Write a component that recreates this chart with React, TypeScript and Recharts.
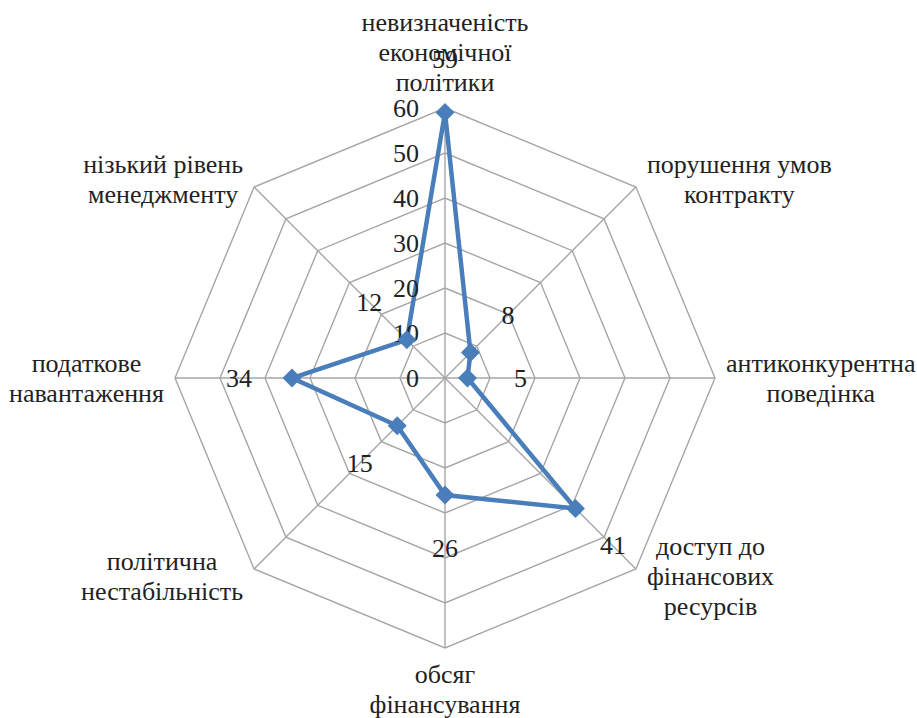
import React from 'react';
import { RadarChart, Radar, PolarGrid, PolarAngleAxis, PolarRadiusAxis } from 'recharts';

// Фактори ризику (категорії) та значення
const categories = [
  'невизначеність\nекономічної\nполітики',
  'порушення умов\nконтракту',
  'антиконкурентна\nповедінка',
  'доступ до\nфінансових\nресурсів',
  'обсяг\nфінансування',
  'політична\nнестабільність',
  'податкове\nнавантаження',
  'нізький рівень\nменеджменту',
];
const values = [59, 8, 5, 41, 26, 15, 34, 12];
const radiusTicks = [0, 10, 20, 30, 40, 50, 60];

const data = categories.map((name, i) => ({ name, value: values[i] }));

const W = 917;
const H = 718;
const CX = 445;
const CY = 378;
const R = 270;
const FS = 26;
const LH = 30;
const FONT = 'Liberation Serif';
const BLUE = '#4a7ebb';
const GRID = '#a6a6a6';
const RAD = Math.PI / 180;
const TXT = '#222';

let ctx: CanvasRenderingContext2D | null = null;
const measure = (s: string) => {
  if (!ctx) ctx = document.createElement('canvas').getContext('2d');
  if (!ctx) return s.length * FS * 0.5;
  ctx.font = `${FS}px "${FONT}"`;
  return ctx.measureText(s).width;
};

// підписи категорій: блок тексту зовні вершини, як в Excel
const AngleTick = (props: any) => {
  const { payload } = props;
  const angle = payload.coordinate;
  const cos = Math.cos(angle * RAD);
  const sin = Math.sin(angle * RAD);
  const vx = CX + R * cos;
  const vy = CY - R * sin;
  const lines = String(payload.value).split('\n');
  const w = Math.max(...lines.map(measure));
  const h = lines.length * LH;
  let bx = vx;
  if (cos > 0.1) bx = vx + w / 2 + 11;
  else if (cos < -0.1) bx = vx - w / 2 - 11;
  let by = vy;
  if (Math.abs(cos) < 0.1) by = vy - Math.sign(sin) * (h / 2 + 11);
  else if (Math.abs(sin) > 0.1) by = vy - Math.sign(sin) * 8;
  return (
    <text textAnchor="middle" fontFamily={FONT} fontSize={FS} fill={TXT}>
      {lines.map((l, i) => (
        <tspan key={i} x={bx} y={by - h / 2 + LH * (i + 0.5)} dominantBaseline="central">
          {l}
        </tspan>
      ))}
    </text>
  );
};

const RadiusTick = (props: any) => {
  const { x, y, payload } = props;
  return (
    <text x={x - 26} y={y} textAnchor="end" dominantBaseline="central" fontFamily={FONT} fontSize={FS} fill={TXT}>
      {payload.value}
    </text>
  );
};

// ромб-маркер + підпис значення, зміщений назовні від центру
const DiamondDot = (props: any) => {
  const { cx, cy, value, index } = props;
  const dx = cx - CX;
  const dy = cy - CY;
  const len = Math.hypot(dx, dy) || 1;
  const off = 53;
  const lx = cx + (dx / len) * off;
  const ly = cy + (dy / len) * off;
  const s = 9.5;
  return (
    <g key={`dot-${index}`}>
      <path d={`M${cx},${cy - s}L${cx + s},${cy}L${cx},${cy + s}L${cx - s},${cy}Z`} fill={BLUE} />
      <text x={lx} y={ly} textAnchor="middle" dominantBaseline="central" fontFamily={FONT} fontSize={FS} fill={TXT}>
        {value}
      </text>
    </g>
  );
};

export default function App() {
  return (
    <div style={{ position: 'fixed', left: 0, top: 0, width: W, height: H, background: '#fff' }}>
      <RadarChart width={W} height={H} data={data} cx={CX} cy={CY} outerRadius={R} margin={{ top: 0, right: 0, bottom: 0, left: 0 }}>
        <PolarGrid gridType="polygon" stroke={GRID} strokeWidth={1.4} />
        <PolarAngleAxis dataKey="name" tick={AngleTick} tickLine={false} axisLine={false} />
        <PolarRadiusAxis
          angle={90}
          domain={[0, 60]}
          ticks={radiusTicks as any}
          tickCount={7}
          axisLine={false}
          tickLine={false}
          tick={RadiusTick}
        />
        <Radar
          dataKey="value"
          stroke={BLUE}
          strokeWidth={4.5}
          fill="none"
          fillOpacity={0}
          dot={DiamondDot}
          isAnimationActive={false}
        />
      </RadarChart>
    </div>
  );
}
